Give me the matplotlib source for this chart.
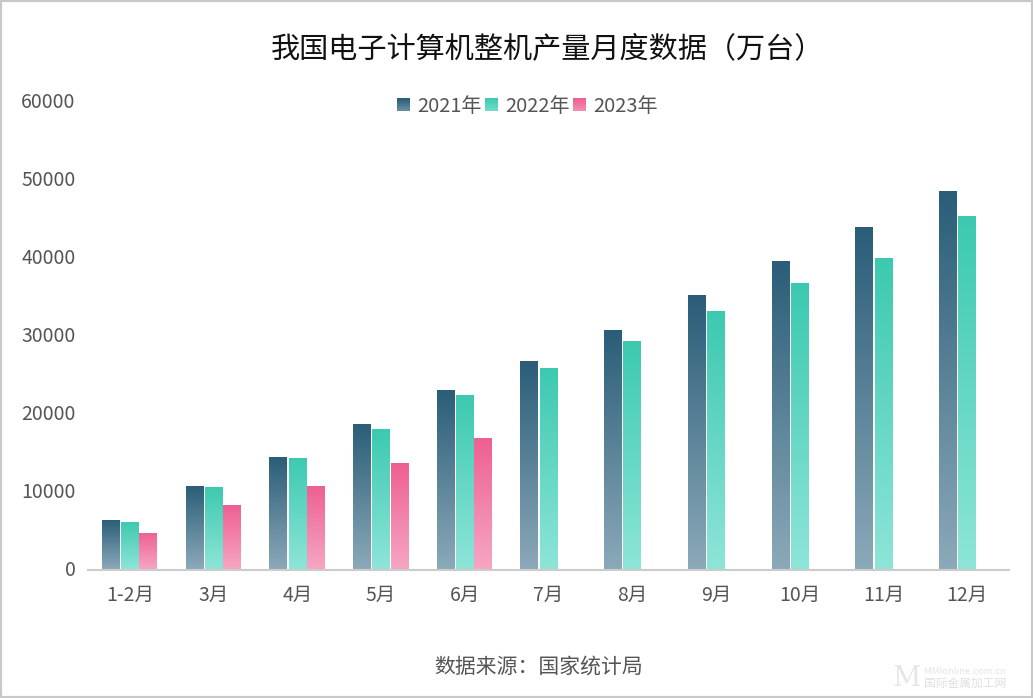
import matplotlib
matplotlib.use('Agg')
import matplotlib.pyplot as plt
import numpy as np
from matplotlib.colors import LinearSegmentedColormap, to_hex
from matplotlib.legend_handler import HandlerBase
from matplotlib.patches import Patch, Rectangle
from matplotlib.transforms import ScaledTranslation

plt.rcParams['font.family'] = ['Noto Sans CJK SC', 'DejaVu Sans']

months = ['1-2月', '3月', '4月', '5月', '6月', '7月', '8月', '9月', '10月', '11月', '12月']
y2021 = [6400, 10700, 14400, 18700, 23000, 26700, 30700, 35200, 39600, 43900, 48500]
y2022 = [6100, 10600, 14300, 18000, 22400, 25800, 29300, 33200, 36700, 40000, 45300]
y2023 = [4700, 8300, 10700, 13700, 16900]

series = [
    ('2021年', y2021, '#2a5d78', '#8ba9b9', -0.23),
    ('2022年', y2022, '#3cc9b0', '#8de5d8', 0.0),
    ('2023年', y2023, '#ee5f92', '#f6a6c3', 0.22),
]
bar_w = 0.21
grey = '#555555'


class GradientHandler(HandlerBase):
    # legend square drawn as a few thin strips
    def create_artists(self, legend, orig, xdescent, ydescent, width, height, fontsize, trans):
        cmap = LinearSegmentedColormap.from_list('h', [orig.top, orig.bottom])
        n = 8
        side = width
        y0 = -ydescent + (height - side) / 2
        out = []
        for i in range(n):
            c = to_hex(cmap(0.6 * i / (n - 1)))
            out.append(Rectangle((-xdescent, y0 + side * (n - 1 - i) / n), side, side / n + 0.2,
                                 facecolor=c, edgecolor='none', transform=trans))
        return out


W, H = 1033, 698
fig = plt.figure(figsize=(W / 100, H / 100), dpi=100)
ax = fig.add_axes([88 / W, 1 - 569.5 / H, 921 / W, 468 / H])

x = np.arange(len(months))
handles = []
for name, vals, top, bottom, off in series:
    cmap = LinearSegmentedColormap.from_list(name, [top, bottom])
    bars = ax.bar(x[:len(vals)] + off, vals, bar_w, color='none')
    for b in bars:
        # per bar gradient, clipped to the bar itself
        im = ax.imshow(np.linspace(0, 1, 128).reshape(-1, 1), cmap=cmap, aspect='auto',
                       extent=[b.get_x(), b.get_x() + b.get_width(), 0, b.get_height()],
                       origin='upper', zorder=2)
        im.set_clip_path(b)
    h = Patch(label=name)
    h.top, h.bottom = top, bottom
    handles.append(h)

ax.set_xlim(-0.5, 10.5)
ax.set_ylim(0, 60000)
ax.set_xticks(x)
ax.set_xticklabels(months)
ax.set_yticks(range(0, 60001, 10000))
ax.tick_params(axis='both', length=0, labelsize=14, labelcolor=grey)
ax.tick_params(axis='x', pad=11)
ax.tick_params(axis='y', pad=9)
shift_up = ScaledTranslation(0, 1 / 100, fig.dpi_scale_trans)
for lab in ax.get_yticklabels():
    lab.set_transform(lab.get_transform() + shift_up)
for s in ['top', 'right', 'left']:
    ax.spines[s].set_visible(False)
ax.spines['bottom'].set_color('#cccccc')
ax.spines['bottom'].set_linewidth(1.5)

ax.legend(handles=handles, ncol=3, frameon=False, loc='center', fontsize=14.4,
          labelcolor=grey, bbox_to_anchor=((527.5 - 88) / 921, (569.5 - 106) / 468),
          handlelength=0.65, handleheight=0.7, handletextpad=0.33, columnspacing=0.2,
          borderpad=0, borderaxespad=0, handler_map={Patch: GradientHandler()})

fig.text(548 / W, 1 - 49 / H, '我国电子计算机整机产量月度数据（万台）', fontsize=21,
         color='#111111', ha='center', va='center')
fig.text(539 / W, 1 - 667 / H, '数据来源：国家统计局', fontsize=15, color=grey,
         ha='center', va='center')

# watermark and image frame
fig.text(907 / W, 1 - 678 / H, 'M', fontsize=20, color='#e6e6e6', ha='center', va='center',
         family='DejaVu Serif')
fig.text(924 / W, 1 - 672 / H, 'MMIonline.com.cn', fontsize=6.8, color='#e4e4e4', ha='left', va='center')
fig.text(924 / W, 1 - 683 / H, '国际金属加工网', fontsize=8.5, color='#e0e0e0', ha='left', va='center')
fig.add_artist(Rectangle((0, 0), 1, 1, transform=fig.transFigure, fill=False,
                         edgecolor='#c8c8c8', linewidth=3))

fig.savefig('out.png', dpi=100)
